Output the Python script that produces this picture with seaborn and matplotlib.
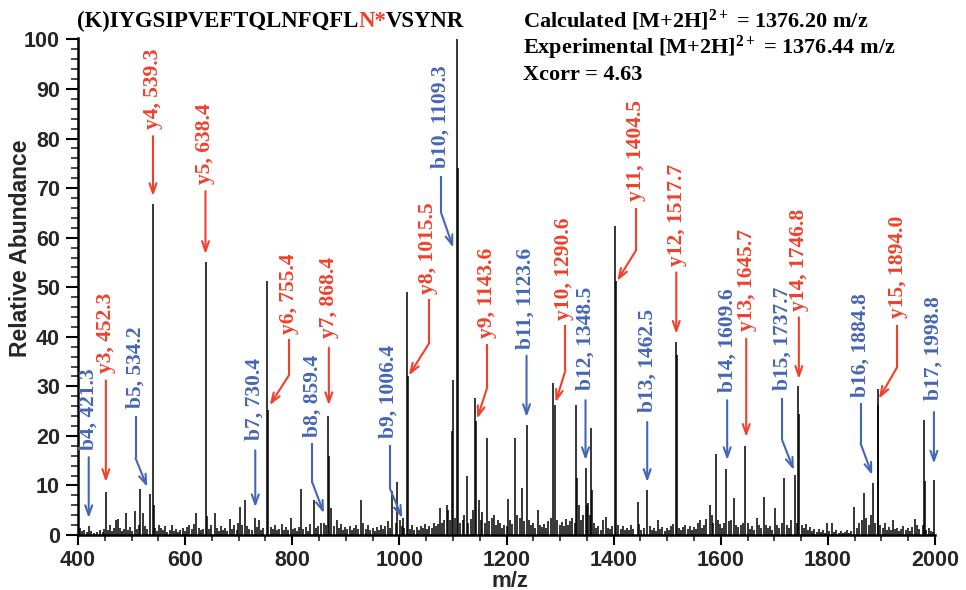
import numpy as np
import pandas as pd
import matplotlib
matplotlib.use('Agg')
import matplotlib.pyplot as plt
from matplotlib.ticker import MultipleLocator
import seaborn as sns

# --- 1. Peaks ---
# main fragment peaks (m/z, relative abundance %)
peak_mz = [421.3, 452.3, 516.4, 534.2, 539.3, 541.5, 638.4, 702, 711, 730.4,
           753.5, 755.4, 816, 841, 859.4, 866.5, 868.4, 987, 996, 1006.4,
           1013.5, 1015.5, 1098, 1100, 1108.3, 1109.3, 1125.8, 1141, 1143.6, 1164,
           1203.5, 1216.5, 1229.6, 1238.3, 1287.4, 1290.6, 1330.6, 1332, 1348.5, 1350.5,
           1358.6, 1360, 1402.5, 1404.5, 1444.6, 1462.5, 1516, 1517.7, 1580, 1591.6,
           1609.6, 1645.7, 1719, 1737.7, 1745, 1746.8, 1867.6, 1884.8, 1893, 1894.0,
           1980, 1981.5, 1998.8]
peak_int = [1.8, 8.7, 9.2, 8.2, 66.8, 6.0, 55.0, 5.7, 7.0, 3.5,
            51.3, 25.3, 9.2, 7.0, 2.5, 24.0, 16.0, 8.8, 10.7, 3.5,
            49.0, 32.0, 21.0, 31.3, 100.0, 74.0, 12.0, 27.6, 23.0, 19.5,
            7.2, 19.5, 9.4, 22.3, 30.6, 26.2, 26.2, 11.5, 13.5, 6.0,
            21.6, 9.0, 62.4, 51.3, 6.7, 9.1, 38.9, 36.4, 6.0, 16.3,
            13.3, 17.9, 11.6, 12.1, 30.0, 24.5, 8.4, 10.4, 29.4, 26.2,
            23.3, 10.9, 11.2]

# small background peaks
noise_mz = [403, 407, 412, 416, 425, 430, 436, 441, 446, 449, 456, 459, 463, 467, 471,
            475, 479, 483, 486, 489, 493, 497, 501, 506, 510, 513, 521, 525, 529, 543,
            547, 551, 555, 559, 563, 567, 571, 575, 579, 583, 587, 591, 596, 600, 604,
            608, 612, 616, 621, 625, 629, 633, 641, 645, 649, 655, 659, 663, 667, 671,
            675, 679, 684, 688, 692, 696, 699, 706, 715, 720, 724, 735, 738, 742, 746,
            760, 764, 768, 772, 776, 780, 784, 788, 792, 797, 801, 805, 809, 813, 821,
            825, 829, 833, 845, 849, 853, 863, 873, 878, 883, 887, 891, 895, 899, 903,
            907, 911, 915, 919, 923, 929, 933, 937, 942, 946, 950, 954, 958, 962, 966,
            970, 974, 978, 982, 993, 1001, 1004, 1009, 1020, 1024, 1028, 1032, 1036, 1040, 1044,
            1048, 1052, 1056, 1060, 1064, 1068, 1072, 1076, 1080, 1084, 1088, 1091, 1094, 1104, 1113,
            1118, 1121, 1129, 1134, 1137, 1148, 1152, 1155, 1159, 1168, 1172, 1176, 1180, 1184, 1188,
            1192, 1196, 1200, 1207, 1211, 1220, 1225, 1233, 1242, 1246, 1250, 1254, 1258, 1262, 1266,
            1270, 1274, 1278, 1283, 1295, 1299, 1303, 1307, 1311, 1315, 1319, 1323, 1327, 1335, 1339,
            1343, 1352, 1355, 1363, 1367, 1371, 1376, 1381, 1385, 1389, 1393, 1397, 1408, 1413, 1417,
            1421, 1425, 1429, 1433, 1437, 1448, 1452, 1457, 1467, 1471, 1475, 1479, 1482, 1487, 1491,
            1495, 1499, 1503, 1507, 1511, 1522, 1526, 1530, 1534, 1538, 1542, 1546, 1550, 1554, 1558,
            1561, 1565, 1569, 1573, 1584, 1586, 1595, 1599, 1603, 1606, 1616, 1620, 1625, 1629, 1633,
            1637, 1641, 1650, 1654, 1658, 1662, 1667, 1672, 1676, 1680, 1684, 1688, 1692, 1696, 1701,
            1705, 1709, 1714, 1724, 1728, 1732, 1742, 1751, 1755, 1759, 1763, 1767, 1771, 1775, 1779,
            1783, 1787, 1791, 1795, 1799, 1803, 1807, 1812, 1816, 1820, 1824, 1828, 1832, 1836, 1840,
            1844, 1849, 1854, 1858, 1863, 1872, 1876, 1880, 1888, 1898, 1902, 1906, 1910, 1914, 1918,
            1921, 1925, 1929, 1933, 1937, 1941, 1945, 1949, 1953, 1957, 1962, 1966, 1970, 1977, 1984,
            1989, 1993, 1997]
noise_int = [1.5, 0.8, 1.0, 0.6, 0.9, 0.5, 0.7, 1.0, 0.6, 1.2, 1.1, 2.0, 0.8, 1.4, 3.0,
             3.2, 1.5, 0.9, 1.2, 4.4, 1.0, 1.6, 0.9, 4.9, 1.3, 2.0, 4.5, 1.8, 1.2, 1.5,
             0.8, 2.0, 1.5, 1.0, 1.8, 0.7, 1.1, 2.0, 0.9, 1.3, 0.6, 1.0, 1.4, 0.8, 1.6,
             2.0, 1.2, 2.3, 4.5, 1.5, 1.0, 1.3, 3.8, 1.2, 2.1, 4.5, 1.5, 0.9, 1.8, 1.1,
             1.4, 0.8, 3.3, 1.2, 2.0, 1.0, 2.5, 2.0, 1.9, 1.3, 1.0, 1.6, 3.0, 1.0, 1.5,
             1.6, 1.2, 2.0, 1.0, 1.3, 2.2, 1.0, 1.7, 1.1, 3.5, 1.2, 1.5, 0.9, 1.6, 1.3,
             1.7, 0.8, 2.2, 1.4, 1.9, 2.5, 2.0, 5.4, 1.8, 3.0, 1.5, 2.2, 1.0, 1.6, 1.2,
             1.8, 1.0, 1.5, 2.0, 1.2, 7.0, 2.4, 1.3, 2.0, 1.0, 1.4, 0.9, 1.7, 1.0, 2.0,
             1.2, 1.8, 2.8, 1.5, 2.5, 3.0, 1.8, 1.5, 1.3, 2.0, 1.1, 1.6, 1.0, 1.8, 1.4,
             2.3, 1.2, 1.8, 1.5, 2.4, 1.8, 2.2, 5.4, 2.5, 3.0, 6.0, 5.0, 3.0, 3.5, 2.5,
             3.0, 4.0, 2.5, 3.2, 5.0, 7.0, 3.0, 4.7, 2.5, 2.8, 3.5, 4.0, 2.0, 3.0, 2.4,
             1.5, 2.0, 1.8, 3.0, 2.2, 4.0, 3.5, 2.8, 3.0, 2.0, 2.5, 1.5, 5.0, 2.0, 1.6,
             2.3, 1.4, 2.8, 3.5, 3.0, 2.0, 2.6, 1.8, 3.2, 2.0, 2.8, 3.5, 2.5, 6.0, 3.0,
             4.0, 6.5, 4.0, 2.5, 1.5, 1.8, 1.0, 3.0, 3.7, 1.5, 1.2, 1.8, 2.0, 1.3, 1.8,
             1.0, 1.5, 1.0, 2.0, 1.2, 2.2, 1.0, 1.5, 1.8, 1.0, 1.4, 0.8, 3.0, 1.2, 1.6,
             0.8, 1.4, 1.0, 1.8, 2.2, 1.5, 1.0, 1.6, 2.0, 1.2, 1.8, 1.0, 1.6, 1.2, 2.4,
             3.0, 1.5, 2.0, 3.2, 4.0, 2.5, 3.0, 2.2, 1.5, 2.5, 2.8, 3.0, 7.4, 2.0, 1.6,
             2.0, 2.5, 2.5, 1.2, 1.8, 1.0, 3.5, 2.0, 1.5, 7.6, 2.0, 1.4, 1.8, 1.0, 5.4,
             2.0, 1.5, 2.5, 2.0, 1.5, 3.0, 2.5, 2.0, 1.5, 2.2, 1.0, 1.6, 0.8, 1.3, 0.7,
             1.2, 0.6, 1.0, 0.5, 2.5, 0.8, 2.5, 0.6, 1.0, 0.5, 0.8, 0.5, 0.6, 1.0, 0.5,
             0.8, 5.7, 1.5, 2.5, 3.0, 3.5, 2.0, 4.0, 2.5, 2.0, 1.5, 2.5, 1.0, 1.6, 1.0,
             3.0, 1.2, 1.5, 0.8, 1.2, 1.8, 1.0, 1.4, 0.8, 1.6, 3.3, 2.0, 1.2, 2.0, 1.0,
             1.5, 0.8, 0.6]

# fragment ion labels
ion_names = ['b4', 'y3', 'b5', 'y4', 'y5', 'b7', 'y6', 'b8', 'y7', 'b9',
             'y8', 'b10', 'y9', 'b11', 'y10', 'b12', 'y11', 'b13', 'y12', 'b14',
             'y13', 'b15', 'y14', 'b16', 'y15', 'b17']
ion_mz = ['421.3', '452.3', '534.2', '539.3', '638.4', '730.4', '755.4', '859.4', '868.4', '1006.4',
          '1015.5', '1109.3', '1143.6', '1123.6', '1290.6', '1348.5', '1404.5', '1462.5', '1517.7', '1609.6',
          '1645.7', '1737.7', '1746.8', '1884.8', '1894.0', '1998.8']

sequence = ['(K)IYGSIPVEFTQLNFQFL', 'N*', 'VSYNR']
precursor_info = ['Calculated [M+2H]$^{2+}$ = 1376.20 m/z',
                  'Experimental [M+2H]$^{2+}$ = 1376.44 m/z',
                  'Xcorr = 4.63']

# label placement: text x, text bottom, arrow path (start, optional bend, tip)
label_layout = {
    'b4':  (419.6, 17.1, [(420, 15.7), (420, 3.4)]),
    'y3':  (453, 32.6, [(452, 31.2), (452, 10.7)]),
    'b5':  (507.4, 25.6, [(507.4, 24.1), (507.4, 15.5), (529.2, 9.7)]),
    'y4':  (540, 81.9, [(540, 80.5), (540, 68.4)]),
    'y5':  (638, 70.8, [(638, 69.4), (638, 56.7)]),
    'b7':  (729, 19.1, [(731, 17.1), (731, 5.6)]),
    'y6':  (793, 40.6, [(793.6, 39.6), (793.6, 32.2), (758, 26.2)]),
    'b8':  (837.8, 19.7, [(837.8, 18.5), (837.8, 10.5), (859, 4.4)]),
    'y7':  (868, 39.8, [(868.3, 37.8), (868.3, 26.2)]),
    'b9':  (980.5, 19.5, [(982, 18.1), (982, 9.5), (1005.3, 3.4)]),
    'y8':  (1053.5, 48.7, [(1055, 47.7), (1055, 38.6), (1017.6, 32.2)]),
    'b10': (1077.5, 74.0, [(1078, 72.4), (1078, 65.0), (1100.5, 58.0)]),
    'y9':  (1164, 39.8, [(1164, 38.6), (1164, 29.8), (1145.3, 23.5)]),
    'b11': (1236.5, 37.6, [(1237.4, 36.2), (1237.4, 23.8)]),
    'y10': (1308, 43.3, [(1310, 42.3), (1310, 33.2), (1291.6, 26.8)]),
    'b12': (1347.5, 29.2, [(1347.5, 27.2), (1347.5, 15.1)]),
    'y11': (1441, 67.4, [(1441, 66.0), (1441, 57.3), (1406.7, 51.3)]),
    'b13': (1462.7, 24.8, [(1462.7, 22.8), (1462.7, 10.7)]),
    'y12': (1518, 54.3, [(1517, 53.0), (1517, 40.6)]),
    'b14': (1612, 28.8, [(1612, 27.2), (1612, 15.1)]),
    'y13': (1648.5, 41.2, [(1647.6, 39.6), (1647.6, 19.8)]),
    'b15': (1714.8, 29.2, [(1714.8, 27.6), (1714.8, 19.1), (1736.5, 13.1)]),
    'y14': (1745.8, 45.3, [(1745.8, 43.9), (1745.8, 31.5)]),
    'b16': (1861, 27.8, [(1861, 26.6), (1861, 18.5), (1882.8, 12.1)]),
    'y15': (1931, 43.7, [(1929.5, 42.3), (1929.5, 33.9), (1895.2, 27.5)]),
    'b17': (1998, 27.2, [(1998, 24.8), (1998, 14.4)]),
}

RED = '#f0402a'
BLUE = '#4566b6'
SERIF = 'Liberation Serif'
SANS = 'Liberation Sans'

df = pd.DataFrame({'mz': peak_mz + noise_mz, 'intensity': peak_int + noise_int})
df = df.sort_values('mz')

# --- 2. Plot ---
sns.set_style('ticks')
plt.rcParams['mathtext.fontset'] = 'custom'
plt.rcParams['mathtext.rm'] = 'Liberation Serif:bold'
plt.rcParams['mathtext.bf'] = 'Liberation Serif:bold'
plt.rcParams['mathtext.it'] = 'Liberation Serif:bold'
plt.rcParams['mathtext.default'] = 'rm'

fig = plt.figure(figsize=(9.66, 5.9), dpi=100)
ax = fig.add_axes([78 / 966, 55 / 590, 857 / 966, 497 / 590])

ax.vlines(df['mz'], 0, df['intensity'], color='black', lw=1.1)

ax.set_xlim(400, 2000)
ax.set_ylim(0, 100.3)
ax.xaxis.set_major_locator(MultipleLocator(200))
ax.xaxis.set_minor_locator(MultipleLocator(50))
ax.yaxis.set_major_locator(MultipleLocator(10))
ax.yaxis.set_minor_locator(MultipleLocator(2))
ax.tick_params(axis='both', which='major', direction='out', width=1.5, color='black')
ax.tick_params(axis='x', which='major', length=7, pad=4)
ax.tick_params(axis='y', which='major', length=9, pad=4)
ax.tick_params(axis='x', which='minor', direction='out', length=4, width=1.2)
ax.tick_params(axis='y', which='minor', direction='out', length=5, width=1.2)
for lab in ax.get_xticklabels() + ax.get_yticklabels():
    lab.set_fontfamily(SANS)
    lab.set_fontweight('bold')
    lab.set_fontsize(15.5)

sns.despine(ax=ax, top=True, right=True)
for side in ['left', 'bottom']:
    ax.spines[side].set_linewidth(1.8)
    ax.spines[side].set_color('black')

ax.set_ylabel('Relative Abundance', fontfamily=SANS, fontweight='bold', fontsize=16.5)
ax.yaxis.set_label_coords(-0.054, 0.576)
ax.set_xlabel('m/z', fontfamily=SANS, fontweight='bold', fontsize=16)
ax.xaxis.set_label_coords(0.504, -0.072)

# fragment ion labels with arrows
for name, mz_text in zip(ion_names, ion_mz):
    col = RED if name.startswith('y') else BLUE
    tx, ty, path = label_layout[name]
    ax.text(tx, ty, f'{name}, {mz_text}', rotation=90, ha='center', va='bottom',
            color=col, fontfamily=SERIF, fontweight='bold', fontsize=15.5)
    xs = [p[0] for p in path]
    ys = [p[1] for p in path]
    if len(path) > 2:
        ax.plot(xs[:-1], ys[:-1], color=col, lw=1.5, solid_capstyle='butt')
    ax.annotate('', xy=path[-1], xytext=path[-2],
                arrowprops=dict(arrowstyle='->,head_length=0.7,head_width=0.25',
                                color=col, lw=1.5, shrinkA=0, shrinkB=0))

# peptide sequence with the glycosylated N in red
t = fig.text(77 / 966, 1 - 27 / 590, sequence[0], ha='left', va='baseline',
             fontfamily=SERIF, fontweight='bold', fontsize=16.4, color='black')
t = ax.annotate(sequence[1], xy=(1, 0), xycoords=t, va='bottom', ha='left',
                fontfamily=SERIF, fontweight='bold', fontsize=16.4, color=RED)
ax.annotate(sequence[2], xy=(1, 0), xycoords=t, va='bottom', ha='left',
            fontfamily=SERIF, fontweight='bold', fontsize=16.4, color='black')

for i, line in enumerate(precursor_info):
    fig.text(523 / 966, 1 - (27 + 26.5 * i) / 590, line, ha='left', va='baseline',
             fontfamily=SERIF, fontweight='bold', fontsize=16, color='black')

plt.savefig('out.png', dpi=100)
